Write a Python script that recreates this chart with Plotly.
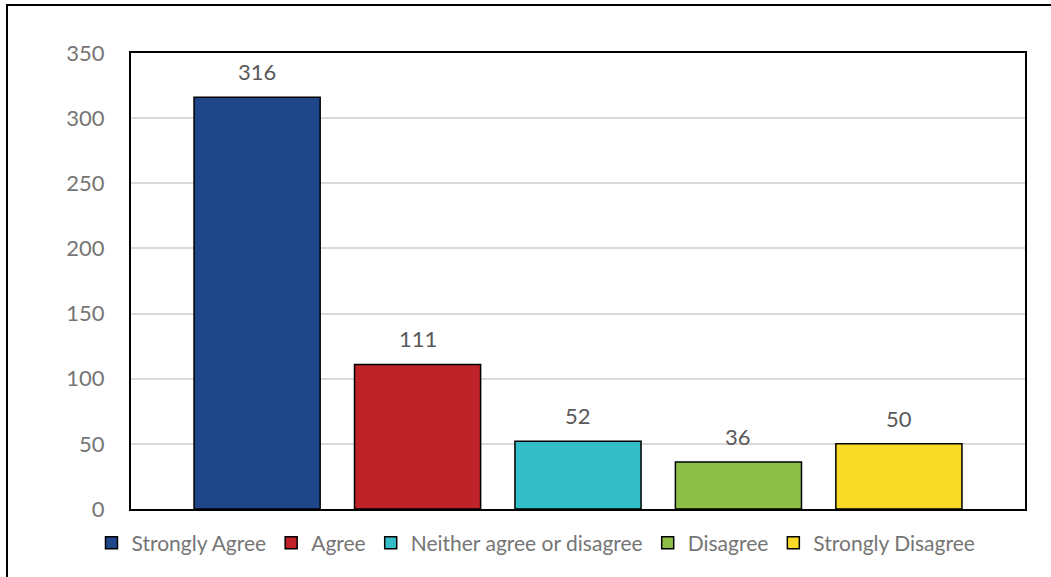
import plotly.graph_objects as go

categories = ["Strongly Agree", "Agree", "Neither agree or disagree", "Disagree", "Strongly Disagree"]
values = [316, 111, 52, 36, 50]
colors = ["#1F4688", "#C0222A", "#33BEC7", "#8DBF48", "#F8DB26"]
y_ticks = [0, 50, 100, 150, 200, 250, 300, 350]

FONT = "Lato"
GRAY = "#595959"
LIGHT = "#757575"
FS = 22

fig = go.Figure()
for cat, val, col in zip(categories, values, colors):
    fig.add_trace(go.Bar(
        x=[cat], y=[val], name=cat,
        marker=dict(color=col, line=dict(color="black", width=1.5)),
        width=0.786,
        cliponaxis=False,
    ))
    fig.add_annotation(x=cat, y=val, text=str(val), showarrow=False,
                       yanchor="bottom", yshift=10,
                       font=dict(family=FONT, size=FS, color=GRAY))

fig.update_layout(
    width=1051, height=577,
    margin=dict(l=131, r=26, t=53, b=68),
    paper_bgcolor="white", plot_bgcolor="white",
    barmode="overlay",
    font=dict(family=FONT, size=FS, color=LIGHT),
    legend=dict(orientation="h", x=0.453, xanchor="center", y=-0.075, yanchor="middle",
                font=dict(family=FONT, size=21, color=LIGHT), itemclick=False,
                itemwidth=30, tracegroupgap=0),
    showlegend=True,
    xaxis=dict(categoryorder="array", categoryarray=categories, range=[-0.786, 4.786],
               showticklabels=False, showgrid=False, zeroline=False,
               showline=True, linecolor="black", linewidth=2, mirror=True, fixedrange=True),
    yaxis=dict(range=[0, 350], tickvals=y_ticks, showgrid=True, gridcolor="#D9D9D9", gridwidth=1.5,
               zeroline=False, showline=True, linecolor="black", linewidth=2, mirror=True,
               tickfont=dict(family=FONT, size=FS, color=LIGHT), ticklabelstandoff=20),
    shapes=[dict(type="rect", xref="paper", yref="paper",
                 x0=(7 - 131) / 894, x1=1.2, y0=-0.3, y1=(509 - 5) / 456,
                 line=dict(color="black", width=2), fillcolor="rgba(0,0,0,0)", layer="below")],
)

fig.write_html("out.html", config={"displayModeBar": False},
               post_script="document.body.style.margin='0';")
